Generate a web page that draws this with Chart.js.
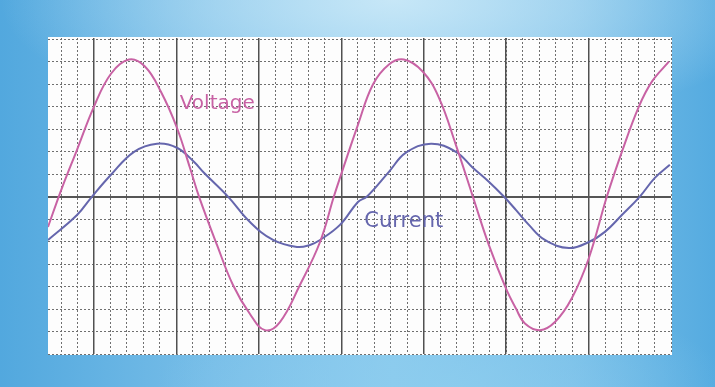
<!DOCTYPE html>
<html>
<head>
<meta charset="utf-8">
<script src="https://cdn.jsdelivr.net/npm/chart.js@4"></script>
<style>
  html, body { margin: 0; padding: 0; }
  body {
    width: 715px; height: 387px; overflow: hidden;
    background:
      radial-gradient(ellipse 55% 35% at 55% 0%, rgba(205,234,248,0.9), rgba(205,234,248,0) 100%),
      radial-gradient(ellipse 40% 25% at 62% 100%, rgba(140,205,238,0.8), rgba(140,205,238,0) 100%),
      linear-gradient(to right, #52a8de 0%, #78bee8 30%, #8ccaee 55%, #78bee8 80%, #55abe0 100%);
  }
  #wrap { position: absolute; left: 0; top: 0; width: 715px; height: 387px; }
</style>
</head>
<body>
<div id="wrap"><canvas id="myChart" width="715" height="387"></canvas></div>
<script>
// values: x in small grid squares, y in small grid squares
const voltageX = [-2.79, -1.94, -1.03, 0, 1.03, 2.12, 3.09, 4.06, 5.03, 5.82, 6.37, 7.46, 8.43, 9.46, 10.37, 11.28, 12.49, 13.71, 14.55, 14.92, 16.01, 16.92, 17.89, 18.8, 19.95, 20.92, 21.95, 22.98, 23.95, 24.98, 25.59, 26.14, 27.05, 27.96, 28.99, 30.02, 31.11, 32.02, 33.05, 33.84, 34.87];
const voltageY = [-1.35, 0.39, 2.08, 4.0, 5.46, 6.09, 5.78, 4.66, 3.06, 1.28, 0, -2.15, -3.93, -5.22, -5.94, -5.58, -3.93, -2.02, 0, 0.83, 3.19, 4.98, 5.87, 6.09, 5.55, 4.4, 2.3, 0, -2.15, -4.07, -4.97, -5.64, -5.94, -5.58, -4.51, -2.73, 0, 1.99, 4.0, 5.11, 6.0];

const currentX = [-2.79, -1.03, -0.12, 1.03, 2.43, 3.82, 5.03, 6.06, 6.67, 8.13, 9.46, 10.86, 12.31, 13.1, 13.71, 14.92, 16.01, 16.56, 17.89, 18.92, 20.44, 21.95, 22.98, 23.95, 24.86, 25.59, 26.38, 27.35, 28.81, 30.02, 30.99, 32.02, 33.11, 34.02, 34.93];
const currentY = [-1.93, -0.82, 0, 0.97, 1.99, 2.35, 2.17, 1.55, 1.06, 0, -1.13, -1.93, -2.24, -2.15, -1.93, -1.26, -0.24, 0, 1.1, 1.95, 2.35, 1.99, 1.28, 0.66, 0, -0.59, -1.26, -1.93, -2.29, -2.02, -1.57, -0.82, 0, 0.83, 1.41];

const seriesNames = ['Voltage', 'Current'];
const seriesColors = ['#c862a4', '#6566ad'];

// grid line positions
const minorXTicks = [-2, -1, 0, 1, 2, 3, 4, 5, 6, 7, 8, 9, 10, 11, 12, 13, 14, 15, 16, 17, 18, 19, 20, 21, 22, 23, 24, 25, 26, 27, 28, 29, 30, 31, 32, 33, 34, 35];
const majorXTicks = [0, 5, 10, 15, 20, 25, 30];
const minorYTicks = [-7, -6, -5, -4, -3, -2, -1, 0, 1, 2, 3, 4, 5, 6, 7];
const majorYTicks = [0];

const xMin = -2.79, xMax = 35;
const yMin = -7, yMax = 7.05;

function toPoints(xs, ys) {
    let pts = [];
    for (let i = 0; i < xs.length; i++) {
        pts.push({ x: xs[i], y: ys[i] });
    }
    return pts;
}

function setTicks(list) {
    return function (scale) {
        scale.ticks = list.map(v => ({ value: v }));
    };
}

// white panel + text labels next to the curves
const panelAndLabels = {
    id: 'panelAndLabels',
    beforeDraw(chart) {
        const a = chart.chartArea;
        const c = chart.ctx;
        c.save();
        c.fillStyle = '#fdfdfd';
        c.fillRect(a.left, a.top - 1, a.right - a.left + 1, a.bottom - a.top + 2);
        c.restore();
    },
    afterDatasetsDraw(chart) {
        const c = chart.ctx;
        const x = chart.scales.x, y = chart.scales.y;
        c.save();
        c.textBaseline = 'alphabetic';
        c.font = '20px "DejaVu Sans"';
        c.fillStyle = seriesColors[0];
        c.fillText(seriesNames[0], x.getPixelForValue(5.2), y.getPixelForValue(3.9));
        c.font = '21px "DejaVu Sans"';
        c.fillStyle = seriesColors[1];
        c.fillText(seriesNames[1], x.getPixelForValue(16.4), y.getPixelForValue(-1.35));
        c.restore();
    }
};

const ctx = document.getElementById('myChart');

new Chart(ctx, {
    type: 'line',
    data: {
        datasets: [{
            label: seriesNames[0],
            data: toPoints(voltageX, voltageY),
            borderColor: seriesColors[0],
            borderWidth: 2,
            pointRadius: 0,
            tension: 0.4,
            fill: false
        }, {
            label: seriesNames[1],
            data: toPoints(currentX, currentY),
            borderColor: seriesColors[1],
            borderWidth: 2,
            pointRadius: 0,
            tension: 0.4,
            fill: false
        }]
    },
    options: {
        responsive: false,
        animation: false,
        layout: { padding: { left: 48, right: 44, top: 38, bottom: 33 } },
        plugins: {
            legend: { display: false },
            tooltip: { enabled: false }
        },
        scales: {
            x: {
                type: 'linear', min: xMin, max: xMax,
                afterBuildTicks: setTicks(minorXTicks),
                ticks: { display: false },
                grid: { drawTicks: false, lineWidth: 1, color: '#6f6f6f' },
                border: { display: false, dash: [2, 2] }
            },
            y: {
                type: 'linear', min: yMin, max: yMax,
                afterBuildTicks: setTicks(minorYTicks),
                ticks: { display: false },
                grid: { drawTicks: false, lineWidth: 1, color: '#6f6f6f' },
                border: { display: false, dash: [2, 2] }
            },
            x2: {
                type: 'linear', min: xMin, max: xMax, position: 'bottom',
                afterBuildTicks: setTicks(majorXTicks),
                ticks: { display: false },
                grid: { drawTicks: false, lineWidth: 1.5, color: '#505050' },
                border: { display: false }
            },
            y2: {
                type: 'linear', min: yMin, max: yMax, position: 'left',
                afterBuildTicks: setTicks(majorYTicks),
                ticks: { display: false },
                grid: { drawTicks: false, lineWidth: 2, color: '#555555' },
                border: { display: false }
            }
        }
    },
    plugins: [panelAndLabels]
});
</script>
</body>
</html>
